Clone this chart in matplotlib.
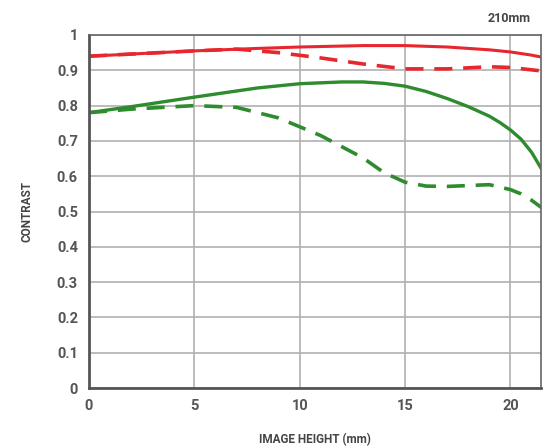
import numpy as np
import matplotlib
matplotlib.use("Agg")
from matplotlib import pyplot as plt

# MTF data (image height in mm, contrast)
h_red_s = [0, 2, 5, 8, 10, 13, 15, 17, 19, 20, 21, 21.5]
c_red_s = [0.940, 0.946, 0.955, 0.962, 0.966, 0.970, 0.970, 0.966, 0.958, 0.952, 0.943, 0.937]

h_red_d = [0, 2, 5, 7, 9, 11, 13, 15, 17, 19, 20, 21.5]
c_red_d = [0.940, 0.946, 0.955, 0.960, 0.950, 0.935, 0.918, 0.904, 0.904, 0.910, 0.908, 0.898]

h_grn_s = [0, 2, 5, 8, 10, 12, 13, 14, 15, 16, 17, 18, 19, 19.5, 20, 20.5, 21, 21.5]
c_grn_s = [0.780, 0.797, 0.824, 0.850, 0.862, 0.867, 0.867, 0.863, 0.855, 0.840, 0.820, 0.797,
           0.770, 0.752, 0.731, 0.705, 0.668, 0.618]

h_grn_d = [0, 2, 5, 7, 9, 11, 13, 14, 15, 16, 17, 19, 20, 20.5, 21, 21.5]
c_grn_d = [0.780, 0.790, 0.800, 0.795, 0.765, 0.715, 0.652, 0.610, 0.583, 0.572, 0.571, 0.576,
           0.562, 0.550, 0.532, 0.510]

x_ticks = [0, 5, 10, 15, 20]
y_ticks = [0, 0.1, 0.2, 0.3, 0.4, 0.5, 0.6, 0.7, 0.8, 0.9, 1.0]
y_labels = ["0", "0.1", "0.2", "0.3", "0.4", "0.5", "0.6", "0.7", "0.8", "0.9", "1"]

plt.rcParams['font.family'] = ['Roboto', 'DejaVu Sans']

fig = plt.figure(figsize=(5.45, 4.47), dpi=100)
ax = fig.add_axes([89 / 545, 1 - 388 / 447, 452 / 545, 353 / 447])

red = '#e8262e'
green = '#2e8b2e'
ax.plot(h_red_s, c_red_s, color=red, lw=2.2, solid_capstyle='butt', solid_joinstyle='round')
ax.plot(h_red_d, c_red_d, color=red, lw=2.6, dashes=(5, 3))
ax.plot(h_grn_s, c_grn_s, color=green, lw=2.4, solid_capstyle='butt', solid_joinstyle='round')
ax.plot(h_grn_d, c_grn_d, color=green, lw=2.6, dashes=(5, 3))

ax.set_xlim(0, 21.45)
ax.set_ylim(0, 1)
ax.set_xticks(x_ticks)
ax.set_yticks(y_ticks)
ax.set_yticklabels(y_labels)
ax.grid(True, color='#b0b0b0', lw=1.2)
ax.set_axisbelow(True)
ax.tick_params(length=0, pad=8, labelsize=10.5, colors='#555555')
for lab in ax.get_xticklabels() + ax.get_yticklabels():
    lab.set_fontweight('bold')
for side in ['left', 'bottom']:
    ax.spines[side].set_color('#555555')
    ax.spines[side].set_linewidth(2)
for side in ['top', 'right']:
    ax.spines[side].set_color('#666666')
    ax.spines[side].set_linewidth(1.2)

ax.set_xlabel('IMAGE HEIGHT (mm)', fontsize=8.5, fontweight='bold', color='#444444', labelpad=14)
ax.set_ylabel('CONTRAST', fontsize=8.5, fontweight='bold', color='#444444', labelpad=17)
fig.text(509 / 545, 1 - 18 / 447, '210mm', fontsize=9, fontweight='bold', color='#444444',
         ha='center', va='center')

fig.savefig('out.png', dpi=100)
